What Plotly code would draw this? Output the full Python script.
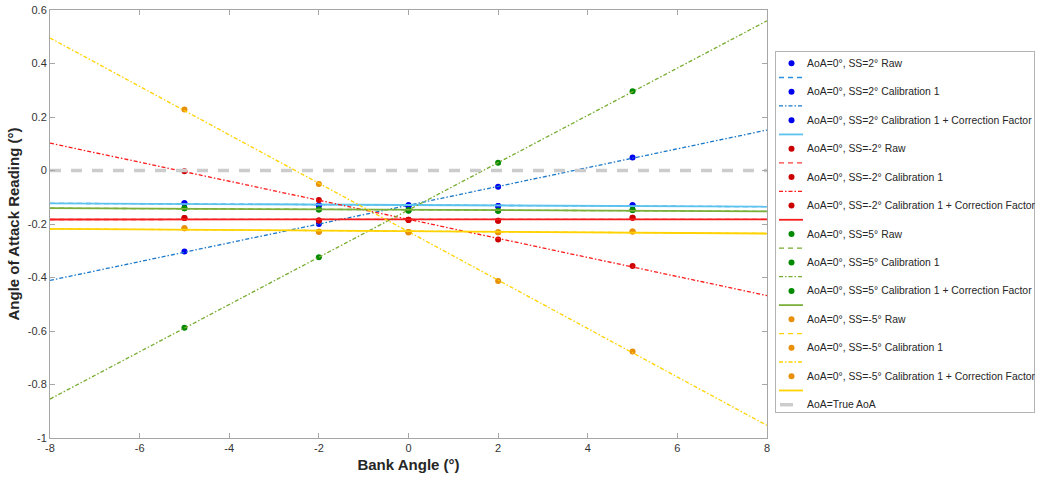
import numpy as np
import plotly.graph_objects as go

# ---------------- data ----------------
bank = [-5, -2, 0, 2, 5]
x_span = [-8, 8]

ss2_raw = [-0.122, -0.130, -0.130, -0.133, -0.130]
ss2_cal1 = [-0.303, -0.200, -0.134, -0.061, 0.049]
ss2_cf = [-0.122, -0.130, -0.130, -0.133, -0.130]

ssm2_raw = [-0.178, -0.187, -0.184, -0.188, -0.177]
ssm2_cal1 = [-0.003, -0.110, -0.185, -0.258, -0.357]
ssm2_cf = [-0.178, -0.187, -0.184, -0.188, -0.177]

ss5_raw = [-0.141, -0.146, -0.149, -0.150, -0.148]
ss5_cal1 = [-0.588, -0.324, -0.150, 0.029, 0.296]
ss5_cf = [-0.141, -0.146, -0.149, -0.150, -0.148]

ssm5_raw = [-0.216, -0.229, -0.230, -0.231, -0.228]
ssm5_cal1 = [0.228, -0.050, -0.232, -0.413, -0.677]
ssm5_cf = [-0.216, -0.229, -0.230, -0.231, -0.228]

true_aoa = [0.0, 0.0]

series_names = [
    "AoA=0°, SS=2° Raw", "AoA=0°, SS=2° Calibration 1",
    "AoA=0°, SS=2° Calibration 1 + Correction Factor",
    "AoA=0°, SS=-2° Raw", "AoA=0°, SS=-2° Calibration 1",
    "AoA=0°, SS=-2° Calibration 1 + Correction Factor",
    "AoA=0°, SS=5° Raw", "AoA=0°, SS=5° Calibration 1",
    "AoA=0°, SS=5° Calibration 1 + Correction Factor",
    "AoA=0°, SS=-5° Raw", "AoA=0°, SS=-5° Calibration 1",
    "AoA=0°, SS=-5° Calibration 1 + Correction Factor",
]
true_name = "AoA=True AoA"

x_ticks = [-8, -6, -4, -2, 0, 2, 4, 6, 8]
x_ticktext = ["-8", "-6", "-4", "-2", "0", "2", "4", "6", "8"]
y_ticks = [0.6, 0.4, 0.2, 0, -0.2, -0.4, -0.6, -0.8, -1]
y_ticktext = ["0.6", "0.4", "0.2", "0", "-0.2", "-0.4", "-0.6", "-0.8", "-1"]

# ---------------- styles ----------------
DASH_RAW = "5px,4px"
DASH_CAL = "4px,2px,1.5px,2px"
series_vals = [ss2_raw, ss2_cal1, ss2_cf, ssm2_raw, ssm2_cal1, ssm2_cf,
               ss5_raw, ss5_cal1, ss5_cf, ssm5_raw, ssm5_cal1, ssm5_cf]
marker_cols = ["#0000f0"] * 3 + ["#cc0000"] * 3 + ["#008a00"] * 3 + ["#e8900a"] * 3
line_cols = ["#2a8fe0", "#1a78c8", "#5cc3ee",
             "#ff3a3a", "#ff1a1a", "#f51d1d",
             "#77ac30", "#77ac30", "#7ab03a",
             "#ffd200", "#ffd200", "#ffd200"]
dashes = [DASH_RAW, DASH_CAL, "solid"] * 4
widths = [1.3, 1.3, 1.8] * 4

W, H = 1039, 481
L, R, T, B = 50, 767, 10, 438
LEG_L, LEG_R, LEG_T, LEG_B = 776, 1034, 52, 412
FONT = "Liberation Sans, Arial"

fig = go.Figure()

for vals, mc, lc, dsh, wd in zip(series_vals, marker_cols, line_cols, dashes, widths):
    fig.add_trace(go.Scatter(x=bank, y=vals, mode="markers",
                             marker=dict(color=mc, size=6), showlegend=False,
                             xaxis="x", yaxis="y"))
    coef = np.polyfit(bank, vals, 1)
    fig.add_trace(go.Scatter(x=x_span, y=list(np.polyval(coef, x_span)), mode="lines",
                             line=dict(color=lc, width=wd, dash=dsh), showlegend=False,
                             xaxis="x", yaxis="y"))

fig.add_trace(go.Scatter(x=x_span, y=true_aoa, mode="lines",
                         line=dict(color="#cccccc", width=3.5, dash="11px,10px"),
                         showlegend=False, xaxis="x", yaxis="y"))

# ---------------- manual legend (own axes, pixel units) ----------------
row0, pitch = 63.3, 14.225
annotations = []
for i, (name, mc, lc, dsh, wd) in enumerate(zip(series_names, marker_cols, line_cols, dashes, widths)):
    ym = row0 + pitch * (2 * i)
    yl = row0 + pitch * (2 * i + 1)
    fig.add_trace(go.Scatter(x=[791.5], y=[ym], mode="markers",
                             marker=dict(color=mc, size=6), showlegend=False,
                             xaxis="x2", yaxis="y2", hoverinfo="skip"))
    fig.add_trace(go.Scatter(x=[779, 803], y=[yl, yl], mode="lines",
                             line=dict(color=lc, width=wd, dash=dsh), showlegend=False,
                             xaxis="x2", yaxis="y2", hoverinfo="skip"))
    annotations.append(dict(x=805, y=ym, xref="x2", yref="y2", text=name, showarrow=False,
                            xanchor="left", yanchor="middle",
                            font=dict(family=FONT, size=10.4, color="#262626")))
yt = row0 + pitch * 24
fig.add_trace(go.Scatter(x=[780, 793], y=[yt, yt], mode="lines",
                         line=dict(color="#cccccc", width=3.5), showlegend=False,
                         xaxis="x2", yaxis="y2", hoverinfo="skip"))
annotations.append(dict(x=805, y=yt, xref="x2", yref="y2", text=true_name, showarrow=False,
                        xanchor="left", yanchor="middle",
                        font=dict(family=FONT, size=10.4, color="#262626")))

axis_common = dict(showgrid=False, zeroline=False, showline=True, linecolor="#a6a6a6",
                   linewidth=1, ticks="inside", ticklen=5, tickcolor="#a6a6a6",
                   mirror="ticks", automargin=False,
                   tickfont=dict(family=FONT, size=11, color="#333333"))

fig.update_layout(
    width=W, height=H, margin=dict(l=0, r=0, t=0, b=0),
    paper_bgcolor="white", plot_bgcolor="white",
    showlegend=False,
    xaxis=dict(domain=[L / W, R / W], range=[-8, 8], tickvals=x_ticks, ticktext=x_ticktext,
               anchor="y",
               title=dict(text="Bank Angle (°)", standoff=6,
                          font=dict(family=FONT, size=15, color="#262626", weight="bold")),
               **axis_common),
    yaxis=dict(domain=[1 - B / H, 1 - T / H], range=[-1, 0.6], tickvals=y_ticks,
               ticktext=y_ticktext, anchor="x",
               title=dict(text="Angle of Attack Reading (°)", standoff=4,
                          font=dict(family=FONT, size=15, color="#262626", weight="bold")),
               **axis_common),
    xaxis2=dict(domain=[LEG_L / W, LEG_R / W], range=[LEG_L, LEG_R], anchor="y2",
                showgrid=False, zeroline=False, showticklabels=False, ticks="",
                showline=True, mirror=True, linecolor="#b4b4b4", linewidth=1),
    yaxis2=dict(domain=[1 - LEG_B / H, 1 - LEG_T / H], range=[LEG_B, LEG_T], anchor="x2",
                showgrid=False, zeroline=False, showticklabels=False, ticks="",
                showline=True, mirror=True, linecolor="#b4b4b4", linewidth=1),
    annotations=annotations,
)

fig.write_html("out.html")
